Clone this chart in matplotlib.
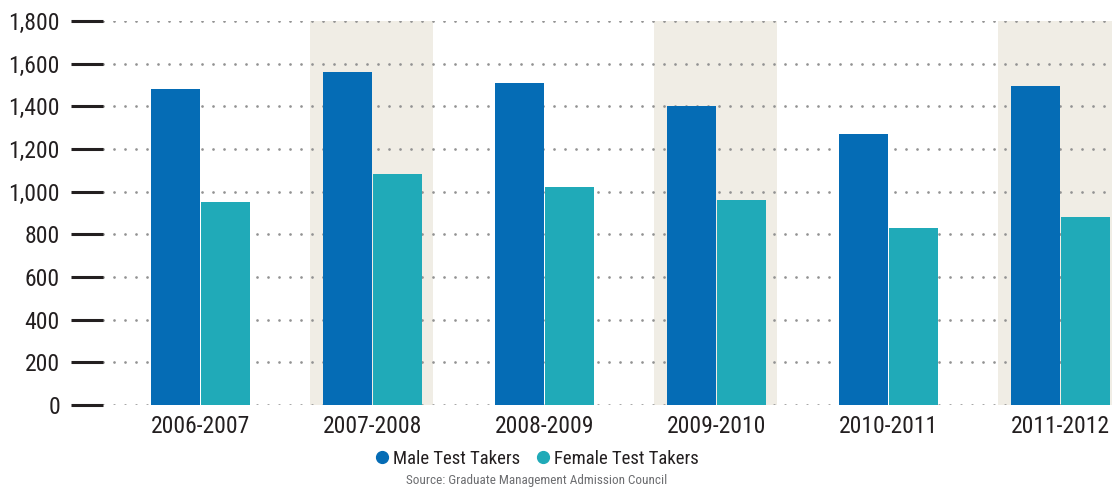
import matplotlib
matplotlib.use("Agg")
import matplotlib.pyplot as plt
from matplotlib import font_manager
from matplotlib.lines import Line2D
import numpy as np

# ---- data ----
categories = ["2006-2007", "2007-2008", "2008-2009", "2009-2010", "2010-2011", "2011-2012"]
male = [1481, 1561, 1509, 1402, 1270, 1495]
female = [952, 1083, 1022, 961, 830, 881]
y_ticks = [0, 200, 400, 600, 800, 1000, 1200, 1400, 1600, 1800]
shaded = ["2007-2008", "2009-2010", "2011-2012"]
series_names = ["Male Test Takers", "Female Test Takers"]
source_text = "Source: Graduate Management Admission Council"

# ---- fonts ----
avail = {f.name for f in font_manager.fontManager.ttflist}
family = None
for cand in ["Liberation Sans Narrow", "Roboto Condensed", "Open Sans Condensed", "Noto Sans", "Liberation Sans"]:
    if cand in avail:
        family = cand
        break
plt.rcParams["font.family"] = [family, "DejaVu Sans"]

MALE_C = "#056cb5"
FEMALE_C = "#20aab8"
BAND_C = "#f0ede5"
TEXT_C = "#231f20"
GRID_C = "#929292"

W, H = 1112, 488
fig = plt.figure(figsize=(W / 100, H / 100), dpi=100)
ax = fig.add_axes([103 / W, (H - 405) / H, 1 - 103 / W, (405 - 21) / H])

x = np.arange(len(categories))
step = 172.0
bw = 49 / step
off = 25 / step

ax.bar(x - off, male, width=bw, color=MALE_C, zorder=2)
ax.bar(x + off, female, width=bw, color=FEMALE_C, zorder=2)

for c in shaded:
    i = categories.index(c)
    ax.axvspan(i - 63 / step, i + 60 / step, color=BAND_C, zorder=0, lw=0)

ax.set_xlim((103 - 200.5) / step, (1112 - 200.5) / step)
ax.set_ylim(0, 1800)
ax.set_yticks(y_ticks)
ax.set_yticklabels([f"{v:,}" for v in y_ticks])
ax.set_xticks(x)
ax.set_xticklabels(categories)

ax.set_axisbelow(True)
ax.grid(axis="y", linestyle=(0, (0.01, 3.95)), linewidth=2.0, color=GRID_C,
        dash_capstyle="round", zorder=1)
ax.grid(axis="x", visible=False)

for s in ax.spines.values():
    s.set_visible(False)

ax.tick_params(axis="y", length=23, width=2.2, color=TEXT_C, pad=8,
               labelsize=17, labelcolor=TEXT_C, direction="out")
ax.tick_params(axis="x", length=0, pad=7, labelsize=17, labelcolor=TEXT_C)

handles = [
    Line2D([], [], linestyle="none", marker="o", markersize=8.5, color=MALE_C),
    Line2D([], [], linestyle="none", marker="o", markersize=8.5, color=FEMALE_C),
]
fig.legend(handles, series_names, loc="center", bbox_to_anchor=(0.482, 0.06),
           ncol=2, frameon=False, fontsize=13.5, handletextpad=0.1,
           columnspacing=0.7, handlelength=1.0, labelcolor=TEXT_C)

fig.text(0.483, 0.016, source_text, ha="center", va="center", fontsize=9.5,
         color="#6d6e71")

fig.savefig("out.png", dpi=100)
